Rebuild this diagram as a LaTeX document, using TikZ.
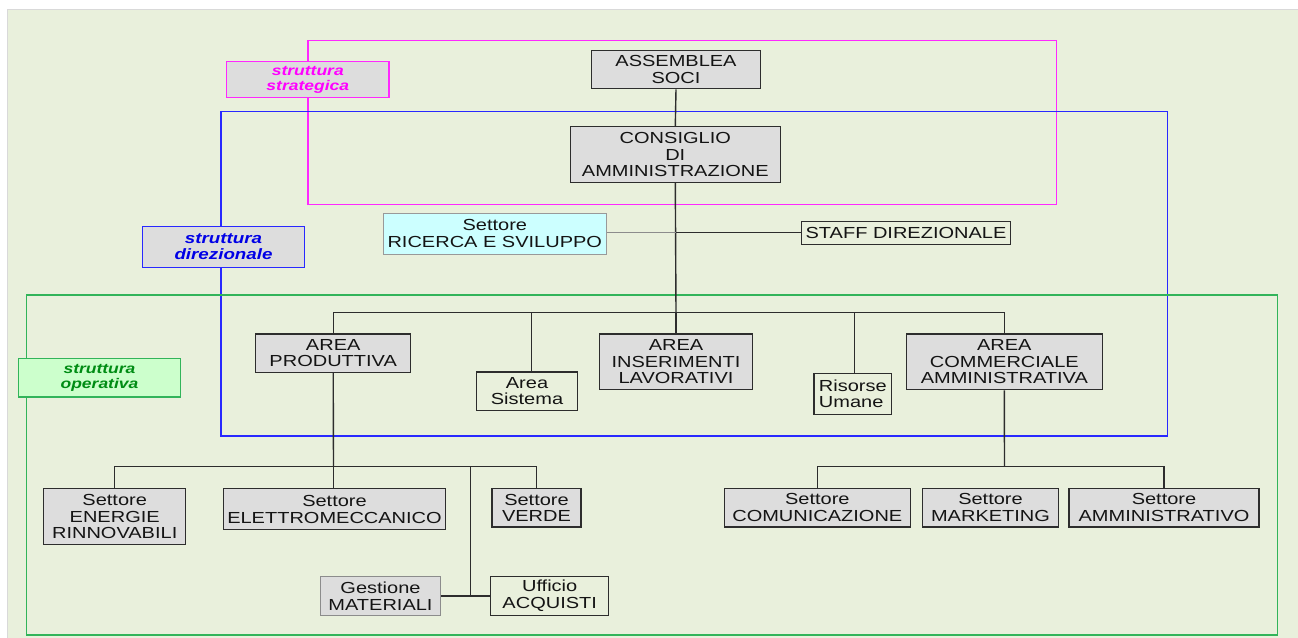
\documentclass[tikz,border=0pt]{standalone}
\usepackage{fontspec}
\setmainfont{Liberation Sans}[FakeStretch=1.25]
\definecolor{bgc}{RGB}{233,240,220}
\definecolor{boxf}{RGB}{221,221,221}
\definecolor{mag}{RGB}{255,40,255}
\definecolor{magt}{RGB}{255,0,255}
\definecolor{blu}{RGB}{40,40,255}
\definecolor{blut}{RGB}{0,0,230}
\definecolor{grn}{RGB}{50,180,90}
\definecolor{grnt}{RGB}{0,140,20}
\definecolor{grnf}{RGB}{204,255,204}
\definecolor{cyf}{RGB}{204,255,255}
\definecolor{txt}{RGB}{20,20,20}
\definecolor{ln}{RGB}{45,45,45}
\tikzset{
  x=1pt,y=-1pt,
  box/.style={draw=ln,line width=1.4pt,fill=boxf,inner sep=0pt,align=center,text=txt,
    font=\fontsize{16}{16.7}\selectfont},
  pbox/.style={box,fill=none},
  conn/.style={draw=ln,line width=1.4pt},
  grp/.style={line width=1.6pt},
  lab/.style={line width=1.4pt,inner sep=0pt,align=center,
    font=\fontsize{14}{15}\selectfont\bfseries\itshape},
}
\begin{document}
\begin{tikzpicture}
\useasboundingbox (0,0) rectangle (1298,637);
\fill[white] (0,0) rectangle (1298,637);
\draw[fill=bgc,draw=black!15,line width=0.8pt] (7,9) rectangle (1300,639);
% group rectangles
\draw[grp,mag] (308,40.5) rectangle (1056.5,204.5);
\draw[grp,blu] (221,111.5) rectangle (1167.5,436);
\draw[grp,grn] (26.5,295) rectangle (1277.5,635);
% nodes
\node[box,minimum width=168.6,minimum height=38.4] (ass) at (676,69.5) {ASSEMBLEA\\SOCI};
\node[box,minimum width=210,minimum height=55.6] (cda) at (675.3,154.5) {CONSIGLIO\\DI\\AMMINISTRAZIONE};
\node[box,fill=cyf,draw=black!40,minimum width=223,minimum height=41] (rs) at (494.8,233.8) {Settore\\RICERCA E SVILUPPO};
\node[pbox,minimum width=208.6,minimum height=23] (staff) at (906,232.8) {STAFF DIREZIONALE};
\node[box,minimum width=155,minimum height=38.3] (prod) at (333.2,353.2) {AREA\\PRODUTTIVA};
\node[pbox,minimum width=100.6,minimum height=38.3] (sist) at (527,391.2) {Area\\Sistema};
\node[box,minimum width=153.4,minimum height=55.7] (ins) at (676,361.8) {AREA\\INSERIMENTI\\LAVORATIVI};
\node[pbox,minimum width=77.7,minimum height=41,align=left] (ris) at (852.8,393.8) {Risorse\\Umane};
\node[box,minimum width=196,minimum height=55.7] (comm) at (1004.3,361.8) {AREA\\COMMERCIALE\\AMMINISTRATIVA};
\node[box,minimum width=142,minimum height=55.6] (ener) at (114.7,516.5) {Settore\\ENERGIE\\RINNOVABILI};
\node[box,minimum width=222.4,minimum height=41] (elet) at (334.5,509.2) {Settore\\ELETTROMECCANICO};
\node[box,minimum width=89,minimum height=38.3] (verde) at (536.5,507.8) {Settore\\VERDE};
\node[box,draw=black!45,minimum width=120.4,minimum height=38.6] (gest) at (380.5,596) {Gestione\\MATERIALI};
\node[pbox,minimum width=118,minimum height=38.6] (uff) at (549.7,596) {Ufficio\\ACQUISTI};
\node[box,minimum width=186,minimum height=38.3] (comu) at (817.3,507.8) {Settore\\COMUNICAZIONE};
\node[box,minimum width=135.6,minimum height=38.3] (mkt) at (990.5,507.8) {Settore\\MARKETING};
\node[box,minimum width=190,minimum height=38.3] (amm) at (1164,507.8) {Settore\\AMMINISTRATIVO};
% connector coordinates
\coordinate (j1) at (676,232.5);
\coordinate (bus) at (676,312.5);
\coordinate (sj) at (531.5,312.5);
\coordinate (rj) at (854.5,312.5);
\coordinate (bus2) at (333.5,466.5);
\coordinate (gj) at (470.5,466.5);
\coordinate (bus3) at (1004.5,466.5);
% connectors
\draw[conn] (ass.south) -- (cda.north);
\draw[conn] (cda.south) -- (bus);
\draw[conn,draw=black!45] (rs.east |- j1) -- (j1);
\draw[conn] (j1) -- (staff.west |- j1);
\draw[conn] (bus) -| (prod.north);
\draw[conn] (bus) -| (comm.north);
\draw[conn] (bus) -- (ins.north);
\draw[conn] (sj) -- (sj |- sist.north);
\draw[conn] (rj) -- (rj |- ris.north);
\draw[conn] (prod.south) -- (bus2);
\draw[conn] (bus2) -| (ener.north);
\draw[conn] (bus2) -| (verde.north);
\draw[conn] (bus2) -- (bus2 |- elet.north);
\draw[conn] (gj) |- (uff.west);
\draw[conn] (gest.east) -- (uff.west);
\draw[conn] (comm.south) -- (bus3);
\draw[conn] (bus3) -| (comu.north);
\draw[conn] (bus3) -| (amm.north);
% labels
\node[lab,draw=mag,fill=boxf,text=magt,minimum width=162.3,minimum height=36.4] (lstrat) at (307.8,79.5) {struttura\\strategica};
\node[lab,draw=blu,fill=boxf,text=blut,minimum width=161.6,minimum height=40.6,font=\fontsize{15}{16}\selectfont\bfseries\itshape] (ldir) at (223.5,247) {struttura\\direzionale};
\node[lab,draw=grn,fill=grnf,text=grnt,minimum width=162.4,minimum height=38.3] (lop) at (99.5,377.8) {struttura\\operativa};
\end{tikzpicture}
\end{document}
